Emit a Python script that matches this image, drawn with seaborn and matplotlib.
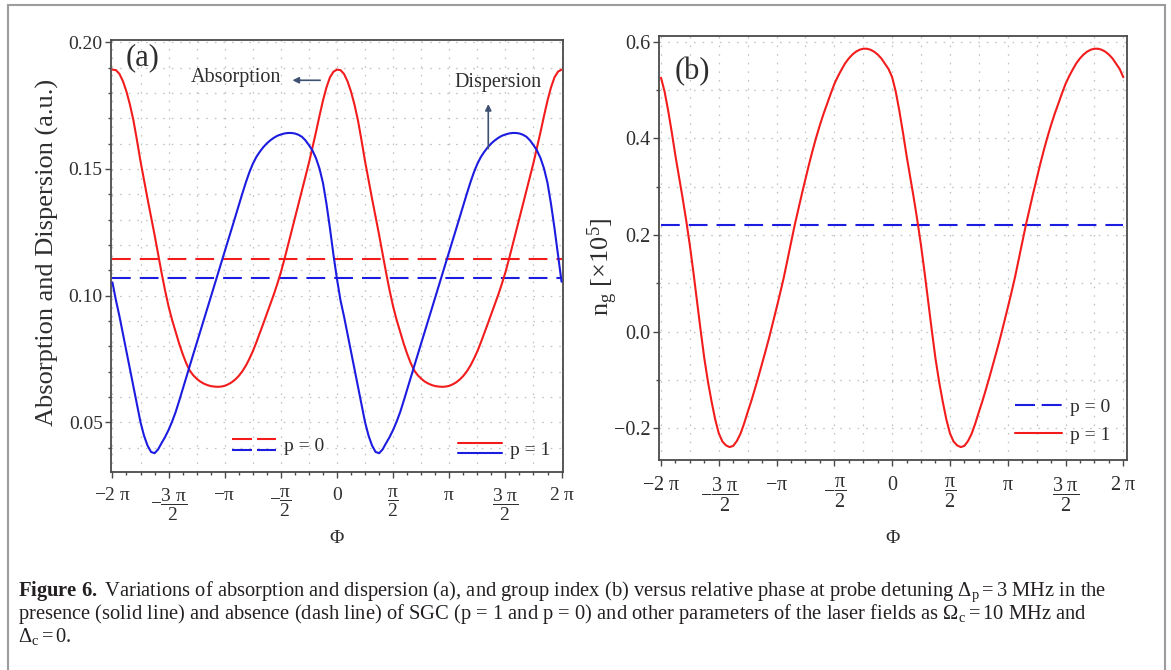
"""Absorption / dispersion (a) and group index (b) versus relative phase."""

import matplotlib
matplotlib.use("Agg")
import matplotlib.pyplot as plt
import matplotlib.ticker as mticker
import numpy as np
import pandas as pd
import seaborn as sns
from matplotlib.legend_handler import HandlerBase
from matplotlib.lines import Line2D
from matplotlib.patches import Rectangle

W, H = 1171, 670
RED = "#f21c1c"
BLUE = "#1c1ce0"
INK = "#2e2e2e"
SPINE = "#4a4a4a"
GRID = "#c2c2c2"
ARROW = "#3f5173"

# phase samples: -2pi .. 2pi in steps of pi/32
phi = np.arange(-64, 65) * np.pi / 32

# (a) values at the phase samples above
absorption_p1 = [
    0.1892, 0.1890, 0.1875, 0.1846, 0.1805, 0.1753, 0.1690, 0.1612, 0.1530,
    0.1455, 0.1382, 0.1311, 0.1240, 0.1164, 0.1090, 0.1020, 0.0957, 0.0904,
    0.0857, 0.0811, 0.0770, 0.0734, 0.0705, 0.0686, 0.0672, 0.0661, 0.0653,
    0.0647, 0.0643, 0.0641, 0.0640, 0.0641, 0.0644, 0.0650, 0.0658, 0.0669,
    0.0683, 0.0701, 0.0723, 0.0750, 0.0780, 0.0815, 0.0852, 0.0890, 0.0928,
    0.0966, 0.1005, 0.1047, 0.1092, 0.1143, 0.1197, 0.1251, 0.1306, 0.1361,
    0.1415, 0.1469, 0.1524, 0.1584, 0.1645, 0.1709, 0.1770, 0.1822, 0.1862,
    0.1884, 0.1892,
    0.1890, 0.1875, 0.1846, 0.1805, 0.1753, 0.1690, 0.1612, 0.1530,
    0.1455, 0.1382, 0.1311, 0.1240, 0.1164, 0.1090, 0.1020, 0.0957, 0.0904,
    0.0857, 0.0811, 0.0770, 0.0734, 0.0705, 0.0686, 0.0672, 0.0661, 0.0653,
    0.0647, 0.0643, 0.0641, 0.0640, 0.0641, 0.0644, 0.0650, 0.0658, 0.0669,
    0.0683, 0.0701, 0.0723, 0.0750, 0.0780, 0.0815, 0.0852, 0.0890, 0.0928,
    0.0966, 0.1005, 0.1047, 0.1092, 0.1143, 0.1197, 0.1251, 0.1306, 0.1361,
    0.1415, 0.1469, 0.1524, 0.1584, 0.1645, 0.1709, 0.1770, 0.1822, 0.1862,
    0.1884, 0.1892,
]
dispersion_p1 = [
    0.1052, 0.0981, 0.0918, 0.0848, 0.0777, 0.0708, 0.0640, 0.0567, 0.0500,
    0.0447, 0.0408, 0.0383, 0.0378, 0.0393, 0.0418, 0.0442, 0.0470, 0.0503,
    0.0540, 0.0584, 0.0630, 0.0675, 0.0721, 0.0767, 0.0812, 0.0857, 0.0902,
    0.0948, 0.0993, 0.1039, 0.1084, 0.1129, 0.1174, 0.1220, 0.1265, 0.1311,
    0.1356, 0.1402, 0.1446, 0.1486, 0.1520, 0.1547, 0.1568, 0.1586, 0.1601,
    0.1613, 0.1623, 0.1631, 0.1636, 0.1640, 0.1642, 0.1642, 0.1640, 0.1635,
    0.1627, 0.1613, 0.1594, 0.1573, 0.1543, 0.1502, 0.1445, 0.1362, 0.1265,
    0.1160, 0.1065,
    0.0981, 0.0918, 0.0848, 0.0777, 0.0708, 0.0640, 0.0567, 0.0500,
    0.0447, 0.0408, 0.0383, 0.0378, 0.0393, 0.0418, 0.0442, 0.0470, 0.0503,
    0.0540, 0.0584, 0.0630, 0.0675, 0.0721, 0.0767, 0.0812, 0.0857, 0.0902,
    0.0948, 0.0993, 0.1039, 0.1084, 0.1129, 0.1174, 0.1220, 0.1265, 0.1311,
    0.1356, 0.1402, 0.1446, 0.1486, 0.1520, 0.1547, 0.1568, 0.1586, 0.1601,
    0.1613, 0.1623, 0.1631, 0.1636, 0.1640, 0.1642, 0.1642, 0.1640, 0.1635,
    0.1627, 0.1613, 0.1594, 0.1573, 0.1543, 0.1502, 0.1445, 0.1362, 0.1265,
    0.1160, 0.1055,
]
absorption_p0 = 0.1144
dispersion_p0 = 0.1069

# (b) group index, units of 1e5
ng_p1 = [
    0.526, 0.497, 0.457, 0.412, 0.364, 0.320, 0.276, 0.229, 0.178,
    0.121, 0.061, 0.001, -0.056, -0.104, -0.145, -0.182, -0.211, -0.228,
    -0.236, -0.2395, -0.237, -0.227, -0.212, -0.191, -0.167, -0.144, -0.119,
    -0.093, -0.066, -0.039, -0.011, 0.019, 0.049, 0.080, 0.112, 0.148,
    0.185, 0.220, 0.253, 0.285, 0.316, 0.347, 0.376, 0.403, 0.428,
    0.451, 0.472, 0.493, 0.513, 0.529, 0.543, 0.556, 0.566, 0.574,
    0.580, 0.584, 0.586, 0.586, 0.584, 0.580, 0.574, 0.566, 0.555,
    0.544, 0.527,
    0.497, 0.457, 0.412, 0.364, 0.320, 0.276, 0.229, 0.178,
    0.121, 0.061, 0.001, -0.056, -0.104, -0.145, -0.182, -0.211, -0.228,
    -0.236, -0.2395, -0.237, -0.227, -0.212, -0.191, -0.167, -0.144, -0.119,
    -0.093, -0.066, -0.039, -0.011, 0.019, 0.049, 0.080, 0.112, 0.148,
    0.185, 0.220, 0.253, 0.285, 0.316, 0.347, 0.376, 0.403, 0.428,
    0.451, 0.472, 0.493, 0.513, 0.529, 0.543, 0.556, 0.566, 0.574,
    0.580, 0.584, 0.586, 0.586, 0.584, 0.580, 0.574, 0.566, 0.555,
    0.544, 0.527,
]
ng_p0 = 0.2214

x_tick_halfpi = [-4, -3, -2, -1, 0, 1, 2, 3, 4]
x_tick_labels = [
    r"$\mathrm{-2\ π}$",
    r"$\mathrm{-}\dfrac{\mathrm{3\ π}}{\mathrm{2}}$",
    r"$\mathrm{-π}$",
    r"$\mathrm{-}\dfrac{\mathrm{π}}{\mathrm{2}}$",
    "0",
    r"$\dfrac{\mathrm{π}}{\mathrm{2}}$",
    r"$\mathrm{π}$",
    r"$\dfrac{\mathrm{3\ π}}{\mathrm{2}}$",
    r"$\mathrm{2\ π}$",
]

caption_lines = [
    r"$\mathbf{Figure\ 6.}$ Variations of absorption and dispersion (a), and group index (b) versus relative phase"
    r" at probe detuning $\Delta_{\mathrm{p}} = 3$ MHz in the",
    r"presence (solid line) and absence (dash line) of SGC (p = 1 and p = 0) and other parameters of the laser"
    r" fields as $\Omega_{\mathrm{c}} = 10$ MHz and",
    r"$\Delta_{\mathrm{c}} = 0$.",
]

DASH = (0, (13.5, 6.5))
LEG_DASH = (0, (14.4, 3.6))

sns.set_style("white")
plt.rcParams.update({
    "font.family": ["Liberation Serif", "DejaVu Serif"],
    "mathtext.fontset": "custom",
    "mathtext.rm": "Liberation Serif",
    "mathtext.it": "Liberation Serif:italic",
    "mathtext.bf": "Liberation Serif:bold",
    "lines.scale_dashes": False,
    "text.color": INK,
    "axes.labelcolor": INK,
    "xtick.color": INK,
    "ytick.color": INK,
})


class StackedLines(HandlerBase):
    """Legend handle drawing a tuple of lines one above the other."""

    def __init__(self, sep=8.0, **kw):
        super().__init__(**kw)
        self.sep = sep

    def create_artists(self, legend, orig_handle, xdescent, ydescent,
                       width, height, fontsize, trans):
        y_mid = (height - ydescent) / 2
        artists = []
        for h, dy in zip(orig_handle, (self.sep / 2, -self.sep / 2)):
            ln = Line2D([-xdescent, -xdescent + width], [y_mid + dy] * 2)
            self.update_prop(ln, h, legend)
            ln.set_transform(trans)
            artists.append(ln)
        return artists


def style_axes(ax, xlim, ylim, y_major, y_minor, y_fmt, y_grid, labelsize):
    ax.set_xlim(xlim)
    ax.set_ylim(ylim)
    ax.set_xticks(np.array(x_tick_halfpi) * np.pi / 2)
    ax.set_xticklabels(x_tick_labels)
    ax.xaxis.set_minor_locator(mticker.MultipleLocator(np.pi / 8))
    ax.yaxis.set_major_locator(mticker.MultipleLocator(y_major))
    ax.yaxis.set_minor_locator(mticker.MultipleLocator(y_minor))
    ax.yaxis.set_major_formatter(
        mticker.FuncFormatter(lambda v, _: y_fmt.format(v).replace("-", "\u2212")))
    ax.tick_params(which="both", direction="out", bottom=True, left=True,
                   top=False, right=False, color=SPINE, width=1.0)
    ax.tick_params(which="major", length=4, labelsize=labelsize)
    ax.tick_params(axis="x", which="major", pad=7)
    ax.tick_params(axis="y", which="major", pad=2)
    ax.tick_params(which="minor", length=2.5)
    for s in ax.spines.values():
        s.set_color(SPINE)
        s.set_linewidth(1.3)
    for k in range(-8, 9):
        ax.axvline(k * np.pi / 4, color=GRID, lw=0.9, ls=(0, (1.2, 5)), zorder=0.5)
    for yv in y_grid:
        ax.axhline(yv, color=GRID, lw=0.9, ls=(0, (1.2, 5)), zorder=0.5)


fig = plt.figure(figsize=(W / 100, H / 100), dpi=100)
ax_a = fig.add_axes([111 / W, 1 - 471.7 / H, 452 / W, 431.7 / H])
ax_b = fig.add_axes([659 / W, 1 - 460.3 / H, 467.7 / W, 424.3 / H])

df_a = pd.DataFrame({"phi": phi, "absorption": absorption_p1,
                     "dispersion": dispersion_p1})
df_b = pd.DataFrame({"phi": phi, "ng": ng_p1})

# ---- panel (a)
sns.lineplot(data=df_a, x="phi", y="absorption", ax=ax_a, color=RED, lw=1.5, zorder=3)
sns.lineplot(data=df_a, x="phi", y="dispersion", ax=ax_a, color=BLUE, lw=1.5, zorder=3)
ax_a.hlines(absorption_p0, phi[0], phi[-1], colors=RED, lw=1.5, linestyles=[DASH], zorder=2)
ax_a.hlines(dispersion_p0, phi[0], phi[-1], colors=BLUE, lw=1.5, linestyles=[DASH], zorder=2)

style_axes(ax_a, (-2.013 * np.pi, 2.013 * np.pi), (0.0305, 0.2009), 0.05, 0.01,
           "{:.2f}", np.round(np.arange(0.04, 0.205, 0.01), 2), 14)
ax_a.set_xlabel("Φ", fontsize=14)
ax_a.xaxis.set_label_coords(0.5, -0.135)
ax_a.set_ylabel("Absorption and Dispersion (a.u.)", fontsize=19, va="center")
ax_a.yaxis.set_label_coords(-0.1416, 0.509)

ax_a.text(0.033, 0.958, "(a)", transform=ax_a.transAxes, fontsize=22,
          ha="left", va="center")
ax_a.text(0.2765, 0.912, "Absorption", transform=ax_a.transAxes, fontsize=14.5,
          ha="center", va="center")
ax_a.annotate("", xy=(0.3954, 0.9067), xytext=(0.469, 0.9067),
              xycoords="axes fraction",
              arrowprops=dict(arrowstyle="-|>", color=ARROW, lw=1.2, mutation_scale=9))
ax_a.text(0.8569, 0.9004, "Dispersion", transform=ax_a.transAxes, fontsize=14.5,
          ha="center", va="center")
ax_a.annotate("", xy=(0.8347, 0.858), xytext=(0.8347, 0.7422),
              xycoords="axes fraction",
              arrowprops=dict(arrowstyle="-|>", color=ARROW, lw=1.2, mutation_scale=9))

p0_pair = (Line2D([], [], color=RED, lw=1.5, ls=LEG_DASH),
           Line2D([], [], color=BLUE, lw=1.5, ls=LEG_DASH))
p1_pair = (Line2D([], [], color=RED, lw=1.5), Line2D([], [], color=BLUE, lw=1.5))
leg0 = ax_a.legend([p0_pair], ["p = 0"], handler_map={tuple: StackedLines(sep=8.3)},
                   loc="center left", bbox_to_anchor=(0.2677, 0.0584),
                   frameon=False, fontsize=14, handlelength=2.26,
                   handletextpad=0.42, borderpad=0, borderaxespad=0)
ax_a.add_artist(leg0)
ax_a.legend([p1_pair], ["p = 1"], handler_map={tuple: StackedLines(sep=7.2)},
            loc="center left", bbox_to_anchor=(0.767, 0.0503),
            frameon=False, fontsize=14, handlelength=2.26,
            handletextpad=0.42, borderpad=0, borderaxespad=0)

# ---- panel (b)
sns.lineplot(data=df_b, x="phi", y="ng", ax=ax_b, color=RED, lw=1.5, zorder=3)
ax_b.hlines(ng_p0, phi[0], phi[-1], colors=BLUE, lw=1.5, linestyles=[DASH], zorder=2)

style_axes(ax_b, (-2.0173 * np.pi, 2.0294 * np.pi), (-0.2669, 0.6124), 0.2, 0.1,
           "{:.1f}", np.round(np.arange(-0.2, 0.65, 0.1), 1), 14.5)
ax_b.set_xlabel("Φ", fontsize=14)
ax_b.xaxis.set_label_coords(0.5, -0.164)
ax_b.set_ylabel(r"n$_{\mathrm{g}}$ [×10$^{5}$]", fontsize=19, va="center")
ax_b.yaxis.set_label_coords(-0.1197, 0.4556)
ax_b.text(0.034, 0.9152, "(b)", transform=ax_b.transAxes, fontsize=22,
          ha="left", va="center")

ax_b.legend([Line2D([], [], color=BLUE, lw=1.5, ls=(0, (14.4, 4.8))),
             Line2D([], [], color=RED, lw=1.5)],
            ["p = 0", "p = 1"], loc="center left", bbox_to_anchor=(0.7612, 0.0922),
            frameon=False, fontsize=14, handlelength=2.4, handletextpad=0.43,
            labelspacing=0.56, borderpad=0, borderaxespad=0)

# ---- caption and frame
for line, base in zip(caption_lines, (595.8, 619.0, 642.2)):
    fig.text(18 / W, 1 - base / H, line, fontsize=14.8, ha="left", va="baseline",
             color="#231f20")

fig.add_artist(Rectangle((8 / W, -0.05), (1165 - 8) / W, 1.05 - 5 / H,
                         transform=fig.transFigure, fill=False,
                         edgecolor="#9c9c9c", lw=1.5))

fig.savefig("out.png", dpi=100, facecolor="white")
